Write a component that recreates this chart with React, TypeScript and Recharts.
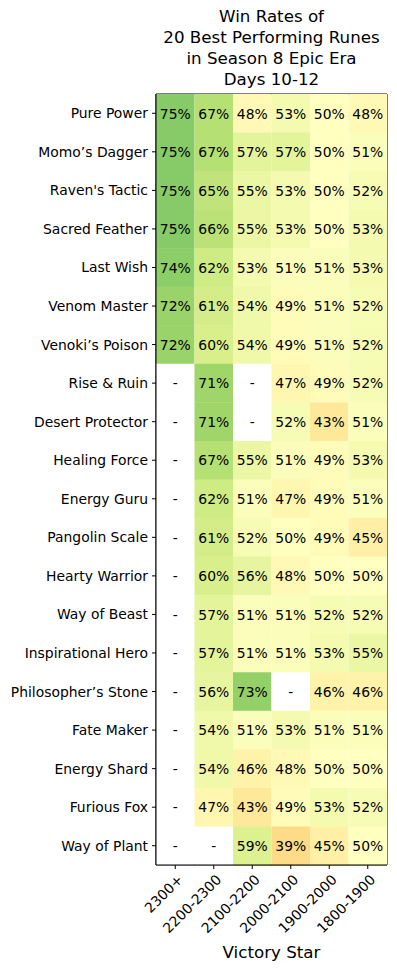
import { BarChart, Bar, XAxis, YAxis, Cell, LabelList, ReferenceArea } from 'recharts'

const runes = [
  'Pure Power', 'Momo’s Dagger', "Raven's Tactic", 'Sacred Feather', 'Last Wish',
  'Venom Master', 'Venoki’s Poison', 'Rise & Ruin', 'Desert Protector', 'Healing Force',
  'Energy Guru', 'Pangolin Scale', 'Hearty Warrior', 'Way of Beast', 'Inspirational Hero',
  'Philosopher’s Stone', 'Fate Maker', 'Energy Shard', 'Furious Fox', 'Way of Plant',
]

const brackets = ['2300+', '2200-2300', '2100-2200', '2000-2100', '1900-2000', '1800-1900']

// win rate per bracket column, null = no data
const wr2300 = [75, 75, 75, 75, 74, 72, 72, null, null, null, null, null, null, null, null, null, null, null, null, null]
const wr2200 = [67, 67, 65, 66, 62, 61, 60, 71, 71, 67, 62, 61, 60, 57, 57, 56, 54, 54, 47, null]
const wr2100 = [48, 57, 55, 55, 53, 54, 54, null, null, 55, 51, 52, 56, 51, 51, 73, 51, 46, 43, 59]
const wr2000 = [53, 57, 53, 53, 51, 49, 49, 47, 52, 51, 47, 50, 48, 51, 51, null, 53, 48, 49, 39]
const wr1900 = [50, 50, 50, 50, 51, 51, 51, 49, 43, 49, 49, 49, 50, 52, 53, 46, 51, 50, 53, 45]
const wr1800 = [48, 51, 52, 53, 53, 52, 52, 52, 51, 53, 51, 45, 50, 52, 55, 46, 51, 50, 52, 50]

const columns = [wr2300, wr2200, wr2100, wr2000, wr1900, wr1800]

// RdYlGn stops
const RDYLGN = [
  '#a50026', '#d73027', '#f46d43', '#fdae61', '#fee08b', '#ffffbf',
  '#d9ef8b', '#a6d96a', '#66bd63', '#1a9850', '#006837',
]

function hex(c: string) {
  return [1, 3, 5].map((i) => parseInt(c.slice(i, i + 2), 16))
}

function heatColor(v: number | null) {
  if (v == null) return '#ffffff'
  const t = Math.max(0, Math.min(1, v / 100)) * (RDYLGN.length - 1)
  const i = Math.min(Math.floor(t), RDYLGN.length - 2)
  const f = t - i
  const a = hex(RDYLGN[i])
  const b = hex(RDYLGN[i + 1])
  const rgb = a.map((x, k) => Math.round(x + (b[k] - x) * f))
  return `rgb(${rgb.join(',')})`
}

const FONT = '"DejaVu Sans", sans-serif'
const FS = 13.9

const rows = runes.map((name, r) => {
  const row: Record<string, any> = { name }
  columns.forEach((col, c) => {
    row[`c${c}`] = 1
    row[`v${c}`] = col[r]
  })
  return row
})

function CellLabel(props: any) {
  const { x, y, width, height, value } = props
  return (
    <text
      x={x + width / 2}
      y={y + height / 2}
      textAnchor="middle"
      dominantBaseline="central"
      fontSize={FS}
      fontFamily={FONT}
      fill="#000"
    >
      {value == null ? '-' : `${value}%`}
    </text>
  )
}

function XTick(props: any) {
  const { x, y, payload } = props
  const label = brackets[Math.floor(payload.value)]
  return (
    <g transform={`translate(${x + 5},${y + 6})`}>
      <text
        transform="rotate(-45)"
        textAnchor="end"
        dominantBaseline="central"
        fontSize={FS}
        fontFamily={FONT}
        fill="#000"
      >
        {label}
      </text>
    </g>
  )
}

function YTick(props: any) {
  const { x, y, payload } = props
  return (
    <text
      x={x - 2}
      y={y}
      textAnchor="end"
      dominantBaseline="central"
      fontSize={FS}
      fontFamily={FONT}
      fill="#000"
    >
      {payload.value}
    </text>
  )
}

export default function App() {
  return (
    <div style={{ position: 'absolute', left: 0, top: 0, width: 397, height: 971, background: '#fff', fontFamily: FONT }}>
      <div
        style={{
          position: 'absolute',
          left: 156,
          width: 231,
          top: 6,
          textAlign: 'center',
          fontSize: 16.7,
          lineHeight: '21px',
          color: '#000',
        }}
      >
        Win Rates of
        <br />
        20 Best Performing Runes
        <br />
        in Season 8 Epic Era
        <br />
        Days 10-12
      </div>
      <BarChart
        width={397}
        height={971}
        data={rows}
        layout="vertical"
        barCategoryGap={0}
        barGap={0}
        margin={{ top: 94, right: 10, bottom: 0, left: 0 }}
      >
        {columns.map((col, c) => (
          <Bar key={c} dataKey={`c${c}`} stackId="heat" isAnimationActive={false}>
            {col.map((v, r) => (
              <Cell key={r} fill={heatColor(v)} />
            ))}
            <LabelList dataKey={`v${c}`} content={<CellLabel />} />
          </Bar>
        ))}
        <XAxis
          type="number"
          domain={[0, 6]}
          ticks={[0.5, 1.5, 2.5, 3.5, 4.5, 5.5]}
          height={106}
          tick={<XTick />}
          tickLine={{ stroke: '#000' }}
          tickSize={4}
          axisLine={{ stroke: '#000' }}
          allowDecimals
        />
        <YAxis
          type="category"
          dataKey="name"
          width={156}
          tick={<YTick />}
          tickLine={{ stroke: '#000' }}
          tickSize={4}
          axisLine={{ stroke: '#000' }}
          interval={0}
        />
        <ReferenceArea x1={0} x2={6} fill="none" stroke="#000" strokeWidth={1} ifOverflow="visible" />
      </BarChart>
      <div
        style={{
          position: 'absolute',
          left: 156,
          width: 231,
          top: 942,
          textAlign: 'center',
          fontSize: 16.7,
          color: '#000',
        }}
      >
        Victory Star
      </div>
    </div>
  )
}
